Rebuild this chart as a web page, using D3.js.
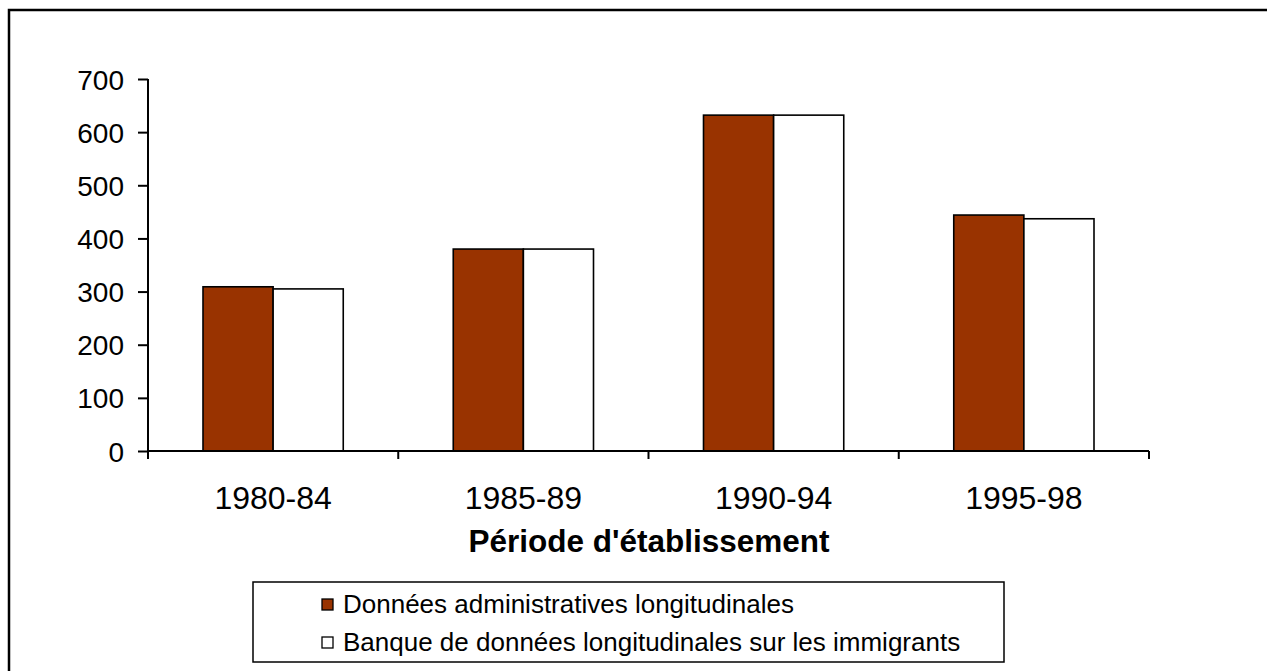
<!DOCTYPE html>
<html><head><meta charset="utf-8">
<script src="https://cdn.jsdelivr.net/npm/d3@7"></script>
<style>body{margin:0;background:#fff;}svg{display:block;font-family:"Liberation Sans",Arial,sans-serif;}</style>
</head><body><svg id="c" width="1267" height="671"></svg>
<script>
const categories = ["1980-84","1985-89","1990-94","1995-98"];
const seriesNames = ["Données administratives longitudinales","Banque de données longitudinales sur les immigrants"];
const adminValues = [309, 380, 632, 444];
const imdbValues = [305, 380, 632, 437];
const yTicks = [0,100,200,300,400,500,600,700];
const colors = ["#993300","#ffffff"];

const svg = d3.select("#c");
svg.append("path").attr("d","M9,671 V10 H1267").attr("fill","none").attr("stroke","#000").attr("stroke-width",2.5);

const x0 = d3.scaleBand().domain(categories).range([148,1149]).paddingInner(0).paddingOuter(0);
const x1 = d3.scaleBand().domain([0,1]).range([55, x0.bandwidth()-55]);
const y = d3.scaleLinear().domain([0,700]).range([451,79]);

const series = [adminValues, imdbValues];
const g = svg.append("g");
categories.forEach((c,i)=>{
  series.forEach((vals,s)=>{
    g.append("rect")
      .attr("x", x0(c)+x1(s)).attr("width", x1.bandwidth())
      .attr("y", y(vals[i])).attr("height", y(0)-y(vals[i]))
      .attr("fill", colors[s]).attr("stroke","#000").attr("stroke-width",1.6);
  });
});

const ya = svg.append("g").attr("transform","translate(148,0)")
  .call(d3.axisLeft(y).tickValues(yTicks).tickSize(10).tickPadding(14).tickFormat(d3.format("d")));
ya.select(".domain").attr("d","M0,79V458").attr("stroke-width",2);
ya.selectAll(".tick line").attr("stroke-width",2);
ya.selectAll(".tick text").attr("font-size",28).attr("dy","0.36em").attr("font-family","Liberation Sans, Arial, sans-serif").attr("fill","#000");

const xa = svg.append("g").attr("transform","translate(0,451)")
  .call(d3.axisBottom(x0).tickSize(0).tickPadding(35));
xa.select(".domain").attr("d","M148,0H1149").attr("stroke-width",2);
xa.selectAll(".tick text").attr("font-size",32).attr("font-family","Liberation Sans, Arial, sans-serif").attr("fill","#000");
const bounds = categories.map(c=>x0(c)).concat([x0.range()[1]]);
svg.selectAll(".sep").data(bounds).enter().append("line")
  .attr("x1",d=>d).attr("x2",d=>d).attr("y1",451).attr("y2",459)
  .attr("stroke","#000").attr("stroke-width",2);

svg.append("text").attr("x",649).attr("y",552).attr("text-anchor","middle")
  .attr("font-size",31.5).attr("font-weight","bold").text("Période d'établissement");

const lg = svg.append("g");
lg.append("rect").attr("x",253).attr("y",582).attr("width",751).attr("height",80)
  .attr("fill","#fff").attr("stroke","#000").attr("stroke-width",1.5);
seriesNames.forEach((n,i)=>{
  const yy = 604 + i*38;
  lg.append("rect").attr("x",322).attr("y",yy-5).attr("width",11).attr("height",11)
    .attr("fill",colors[i]).attr("stroke","#000").attr("stroke-width",1.3);
  lg.append("text").attr("x",343).attr("y",yy+9).attr("font-size",26).text(n);
});
</script></body></html>
